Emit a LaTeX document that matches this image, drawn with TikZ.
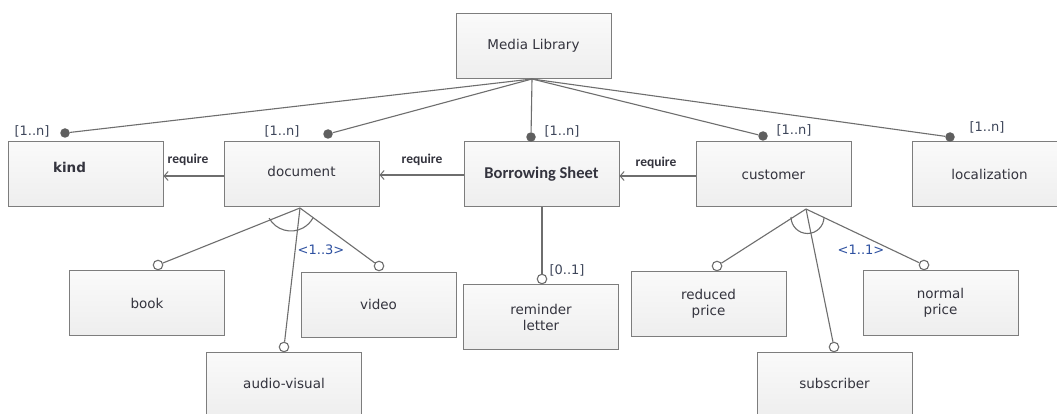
\documentclass[tikz,border=0pt]{standalone}
\usepackage{fontspec}
\setmainfont{DejaVu Sans}
\newfontfamily\carl{Carlito}
\usetikzlibrary{arrows.meta}
\definecolor{boxline}{RGB}{125,125,125}
\definecolor{conncol}{RGB}{110,110,110}
\definecolor{txtcol}{RGB}{52,52,62}
\definecolor{multcol}{RGB}{62,70,90}
\definecolor{cardcol}{RGB}{45,80,160}
\definecolor{dotcol}{RGB}{95,95,95}
\tikzset{
  box/.style={draw=boxline, line width=1pt, top color={rgb,255:red,250;green,250;blue,250},
    bottom color={rgb,255:red,238;green,238;blue,238}, minimum width=155pt, minimum height=65pt,
    inner sep=0pt, align=center, text=txtcol, font=\fontsize{13.5}{16}\selectfont},
  conn/.style={draw=conncol, line width=1.1pt},
  req/.style={conn, -{Straight Barb[length=4pt,width=9pt,line width=1pt]}},
  fdot/.style={circle, fill=dotcol, inner sep=0pt, minimum size=9.5pt},
  odot/.style={circle, draw=conncol, line width=1.1pt, fill=white, inner sep=0pt, minimum size=9.5pt},
  mult/.style={text=multcol, font=\fontsize{13}{14}\selectfont, inner sep=0pt},
  card/.style={text=cardcol, font=\fontsize{13}{14}\selectfont, inner sep=0pt},
  reqlbl/.style={text=txtcol, font=\carl\bfseries\fontsize{13.5}{14}\selectfont, inner sep=0pt}
}
\begin{document}
\begin{tikzpicture}[x=1pt,y=1pt]
\useasboundingbox (0,0) rectangle (1057,-414);
\clip (0,0) rectangle (1057,-414);
\fill[white] (0,0) rectangle (1057,-414);

% boxes
\node[box] (media) at (533.5,-46) {\raisebox{2pt}{Media Library}};
\node[box, label={[text=txtcol, font=\bfseries\fontsize{13.5}{14}\selectfont, xshift=-16pt, yshift=7pt]center:kind}] (kind) at (85.5,-174.5) {};
\node[box] (document) at (301.5,-174.5) {\raisebox{6pt}{document}};
\node[box, font=\carl\bfseries\fontsize{16.5}{18}\selectfont] (bs) at (541.5,-174.5) {\raisebox{4pt}{Borrowing Sheet}};
\node[box] (customer) at (773.5,-174.5) {customer};
\node[box] (loc) at (989.5,-174.5) {localization};
\node[box] (book) at (147,-303) {book};
\node[box] (video) at (378.5,-304.5) {video};
\node[box] (av) at (284,-385) {\raisebox{4pt}{audio-visual}};
\node[box] (reminder) at (541,-317) {reminder\\letter};
\node[box] (reduced) at (708.5,-304) {reduced\\price};
\node[box] (normal) at (940.5,-303) {normal\\price};
\node[box] (subscriber) at (834.5,-385) {\raisebox{4pt}{subscriber}};

% convergence points
\coordinate (m0) at (532,-79);
\coordinate (d0) at (300,-208);
\coordinate (c0) at (806,-209);

% filled dots (mandatory)
\node[fdot] (kdot) at (65,-133) {};
\node[fdot] (ddot) at (328,-134) {};
\node[fdot] (bdot) at (531,-137) {};
\node[fdot] (cdot) at (763,-136) {};
\node[fdot] (ldot) at (950,-137) {};

\draw[conn] (m0) -- (kdot);
\draw[conn] (m0) -- (ddot);
\draw[conn] (m0) -- (bdot);
\draw[conn] (m0) -- (cdot);
\draw[conn] (m0) -- (ldot);

\node[mult] (kl) at (32,-131) {[1..n]};
\node[mult] (dl) at (282,-131) {[1..n]};
\node[mult] (bl) at (562,-131) {[1..n]};
\node[mult] (cl) at (794,-130) {[1..n]};
\node[mult] (ll) at (987,-127) {[1..n]};

% require arrows
\draw[req] ([yshift=-1.5pt]document.west) -- ([yshift=-1.5pt]kind.east);
\draw[req] ([yshift=-0.5pt]bs.west) -- ([yshift=-0.5pt]document.east);
\draw[req] ([yshift=-1.5pt]customer.west) -- ([yshift=-1.5pt]bs.east);
\node[reqlbl] (r1) at (188,-160) {require};
\node[reqlbl] (r2) at (422,-160) {require};
\node[reqlbl] (r3) at (656,-163) {require};

% document children
\node[odot] (bookc) at (158,-265) {};
\node[odot] (avc) at (284,-347) {};
\node[odot] (videoc) at (379,-266) {};
\draw[conn] (d0) -- (bookc);
\draw[conn] (d0) -- (avc);
\draw[conn] (d0) -- (videoc);
\draw[conn] (291,-206) ++(209:25) arc[start angle=209, end angle=331, radius=25];
\node[card] (c13) at (321,-250) {<1..3>};

% borrowing sheet child
\node[odot] (remc) at (542,-279) {};
\draw[conn] (bs.south -| remc) -- (remc);
\node[mult] (r01) at (567,-270) {[0..1]};

% customer children
\node[odot] (redc) at (717,-266) {};
\node[odot] (subc) at (834,-347) {};
\node[odot] (norc) at (924,-265) {};
\draw[conn] (c0) -- (redc);
\draw[conn] (c0) -- (subc);
\draw[conn] (c0) -- (norc);
\draw[conn] (807.5,-217) ++(180:16.5) arc[start angle=180, end angle=360, radius=16.5];
\node[card] (c11) at (861,-250) {<1..1>};
\end{tikzpicture}
\end{document}
